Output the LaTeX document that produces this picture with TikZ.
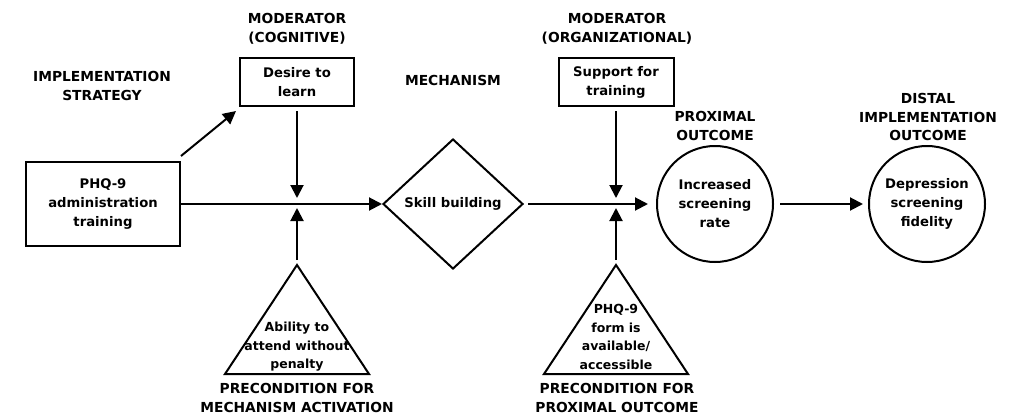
\documentclass[tikz,border=0pt]{standalone}
\usepackage{fontspec}
\setmainfont{DejaVu Sans}
\usetikzlibrary{shapes.geometric,arrows.meta}
\begin{document}
\begin{tikzpicture}[x=1pt,y=-1pt,
  hdr/.style={font=\bfseries\fontsize{13.8}{18.5}\selectfont, align=center, inner sep=0pt},
  txt/.style={font=\bfseries\fontsize{13.2}{19}\selectfont, align=center, inner sep=0pt},
  tritxt/.style={font=\bfseries\fontsize{12.5}{18.5}\selectfont, align=center, inner sep=0pt},
  ln/.style={line width=2pt},
  box/.style={draw, ln, txt},
  roundnode/.style={draw, ln, txt, circle, minimum size=116pt},
  arr/.style={ln, -{Triangle[length=13pt,width=13pt]}}]
\useasboundingbox (0,0) rectangle (1018,415);

% main nodes
\node[box, minimum width=154pt, minimum height=84pt] (phq) at (103,204) {PHQ-9\\administration\\training};
\node[box, minimum width=114pt, minimum height=48pt] (desire) at (297,82) {Desire to\\learn};
\node[box, minimum width=115pt, minimum height=48pt] (support) at (616,82) {Support for\\training};
\node[diamond, draw, ln, txt, minimum width=140pt, minimum height=130pt] (skill) at (453,204) {Skill building};
\node[roundnode] (prox) at (715,204) {Increased\\screening\\rate};
\node[roundnode] (dist) at (927,204) {Depression\\screening\\fidelity};

% triangles
\coordinate (apex1) at (297,265);
\coordinate (bl1) at (225,374);
\coordinate (br1) at (369,374);
\draw[ln, line join=miter] (apex1) -- (br1) -- (bl1) -- cycle;
\node[tritxt] (t1) at (297,347) {Ability to\\attend without\\penalty};

\coordinate (apex2) at (616,265);
\coordinate (bl2) at (544,374);
\coordinate (br2) at (688,374);
\draw[ln, line join=miter] (apex2) -- (br2) -- (bl2) -- cycle;
\node[tritxt] (t2) at (616,337) {PHQ-9\\form is\\available/\\accessible};

% junctions
\coordinate (j1) at (297,204);
\coordinate (j2) at (616,204);

% connectors
\draw[arr] (phq) -- (skill);
\draw[arr] ([yshift=5pt]phq.north east) -- ([xshift=-3pt,yshift=-4pt]desire.south west);
\draw[arr, shorten <=4pt, shorten >=6pt] (desire) -- (j1);
\draw[arr, shorten >=4pt] ([yshift=5pt]apex1) -- (j1);
\draw[arr, shorten <=4pt, shorten >=8pt] (skill) -- (prox);
\draw[arr, shorten <=4pt, shorten >=6pt] (support) -- (j2);
\draw[arr, shorten >=4pt] ([yshift=5pt]apex2) -- (j2);
\draw[arr, shorten <=6pt, shorten >=5pt] (prox) -- (dist);

% headers
\node[hdr] (himpl) at (102,86) {IMPLEMENTATION\\STRATEGY};
\node[hdr] (hmodc) at (297,29) {MODERATOR\\(COGNITIVE)};
\node[hdr] (hmech) at (453,80) {MECHANISM};
\node[hdr] (hmodo) at (617,29) {MODERATOR\\(ORGANIZATIONAL)};
\node[hdr] (hprox) at (715,126) {PROXIMAL\\OUTCOME};
\node[hdr] (hdist) at (928,117) {DISTAL\\IMPLEMENTATION\\OUTCOME};
\node[hdr] (hpre1) at (297,398) {PRECONDITION FOR\\MECHANISM ACTIVATION};
\node[hdr] (hpre2) at (617,398) {PRECONDITION FOR\\PROXIMAL OUTCOME};
\end{tikzpicture}
\end{document}
